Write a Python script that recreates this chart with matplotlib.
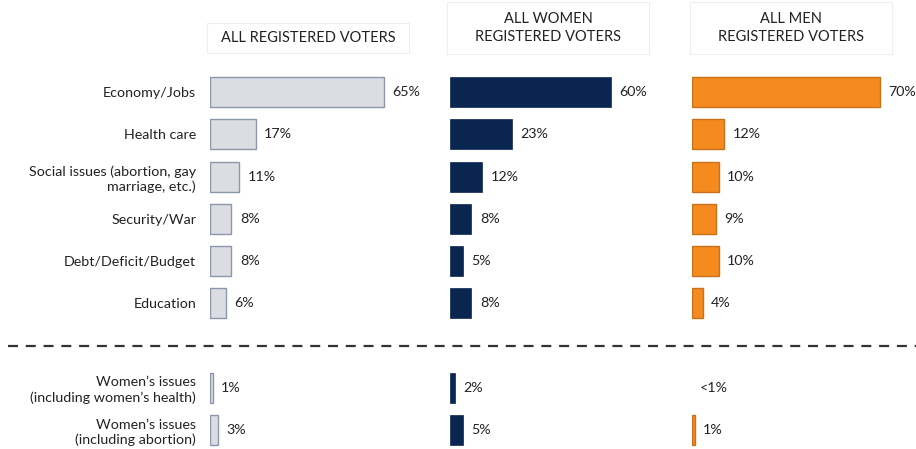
import matplotlib
matplotlib.use("Agg")
import matplotlib.pyplot as plt
from matplotlib.patches import Rectangle

plt.rcParams['font.family'] = ['Lato', 'DejaVu Sans']

categories = ['Economy/Jobs', 'Health care', 'Social issues (abortion, gay\nmarriage, etc.)',
              'Security/War', 'Debt/Deficit/Budget', 'Education',
              'Women\u2019s issues\n(including women\u2019s health)',
              'Women\u2019s issues\n(including abortion)']
rows = [0, 1, 2, 3, 4, 5, 7, 8]

all_voters = [65, 17, 11, 8, 8, 6, 1, 3]
women = [60, 23, 12, 8, 5, 8, 2, 5]
men = [70, 12, 10, 9, 10, 4, 0, 1]
men_labels = ['70%', '12%', '10%', '9%', '10%', '4%', '<1%', '1%']

headers = ['ALL REGISTERED VOTERS', 'ALL WOMEN\nREGISTERED VOTERS', 'ALL MEN\nREGISTERED VOTERS']

W, H = 916, 449
fig = plt.figure(figsize=(W / 100, H / 100), dpi=100)

def fx(px):
    return px / W

def fy(py):
    return 1 - py / H

panel_left = [210, 450, 692]
panel_w = 214.4
ax_top, ax_bot = 71, 449

styles = [
    dict(color='#DCDCE3', edgecolor='#8D97AB', linewidth=1.0),
    dict(color='#0A2550', edgecolor='#0A2550', linewidth=0.5),
    dict(color='#F58A1F', edgecolor='#C8711A', linewidth=1.0),
]
series = [all_voters, women, men]
labels = [[f'{v}%' for v in all_voters], [f'{v}%' for v in women], men_labels]

axes = []
for i in range(3):
    ax = fig.add_axes([fx(panel_left[i]), fy(ax_bot), fx(panel_w), (ax_bot - ax_top) / H])
    bars = ax.barh(rows, series[i], height=0.71, **styles[i])
    for b, v in zip(bars, series[i]):
        if v == 0:
            b.set_visible(False)
    for r, v, lab in zip(rows, series[i], labels[i]):
        ax.annotate(lab, (v, r), xytext=(6, 0), textcoords='offset points',
                    va='center', ha='left', fontsize=10.3, color='#222222')
    ax.set_xlim(0, 80)
    ax.set_ylim(8.45, -0.5)
    for s in ax.spines.values():
        s.set_visible(False)
    ax.set_xticks([])
    if i == 0:
        ax.set_yticks(rows)
        ax.set_yticklabels(categories, fontsize=10.3, color='#222222', linespacing=1.3)
        ax.tick_params(axis='y', length=0, pad=10)
    else:
        ax.set_yticks([])
    ax.patch.set_alpha(0)
    axes.append(ax)

# separator between main and women's issues rows
axes[0].axhline(6, xmin=(8 - 210) / panel_w, xmax=(916 - 210) / panel_w, clip_on=False,
                color='#333333', linewidth=1.6, linestyle=(0, (4.5, 3.5)))

# header boxes
boxes = [(207, 23, 409, 53), (447, 2, 649, 54), (690, 2, 892, 54)]
for (x0, y0, x1, y1), text in zip(boxes, headers):
    fig.add_artist(Rectangle((fx(x0), fy(y1)), fx(x1 - x0), (y1 - y0) / H,
                             transform=fig.transFigure, facecolor='white',
                             edgecolor='#EEEEEE', linewidth=0.8))
    fig.text(fx((x0 + x1) / 2), fy((y0 + y1) / 2), text, ha='center', va='center',
             fontsize=10.5, color='#222222', linespacing=1.35)

fig.savefig('out.png', dpi=100)
